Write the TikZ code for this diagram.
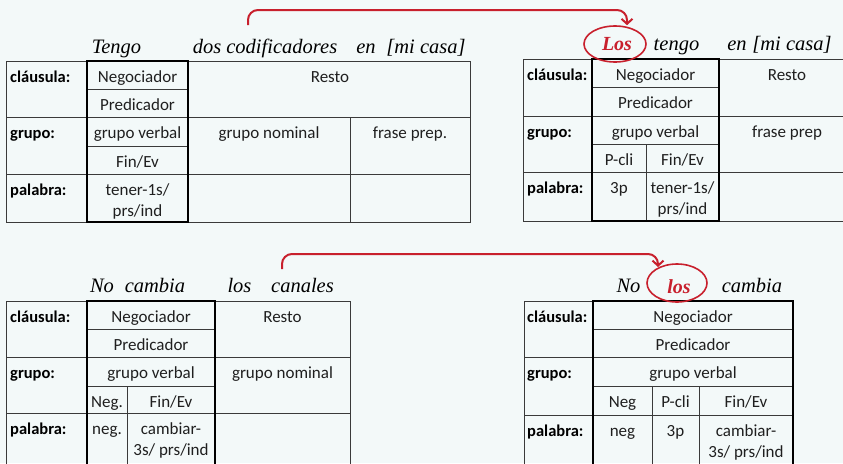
\documentclass[tikz,border=0pt]{standalone}
\usepackage{fontspec}
\newfontfamily\carlito{Carlito}
\newfontfamily\hdrfont{Liberation Serif}
\usetikzlibrary{arrows.meta,shapes.geometric}
\definecolor{bgcol}{HTML}{F3F9F9}
\definecolor{myred}{RGB}{200,32,45}
\definecolor{linecol}{HTML}{3A3A3A}
\begin{document}
\begin{tikzpicture}[x=1pt,y=-1pt,
  thinl/.style={draw=linecol, line width=1pt},
  thickb/.style={draw=black, line width=2.4pt},
  cell/.style={font=\carlito\fontsize{17}{20}\selectfont, inner sep=0, anchor=base, text=black!88},
  rowlbl/.style={font=\carlito\bfseries\fontsize{16.5}{20}\selectfont, inner sep=0, anchor=base west, text=black},
  hdr/.style={font=\hdrfont\itshape\fontsize{20.5}{23}\selectfont, inner sep=0, anchor=base, text=black},
  redword/.style={font=\hdrfont\itshape\bfseries\fontsize{20}{23}\selectfont, inner sep=0, anchor=base, text=myred},
  ring/.style={ellipse, draw=myred, line width=1.6pt, inner sep=0},
  arr/.style={draw=myred, line width=2pt, rounded corners=10pt, -{Straight Barb[length=5pt,width=11pt]}}]
\useasboundingbox (0,0) rectangle (843,463);
\clip (0,0) rectangle (843,463);
\fill[bgcol] (0,0) rectangle (843,463);

% ---------- Table 1 (top left) ----------
\draw[thinl] (6,61) rectangle (470,222);
\draw[thinl] (6,117) -- (470,117) (6,174) -- (470,174);
\draw[thinl] (87,89) -- (188,89) (87,146) -- (188,146);
\draw[thinl] (350,117) -- (350,222);
\draw[thickb] (87,61) rectangle (188,222);
\node[rowlbl] (a-l1) at (10,82) {cláusula:};
\node[rowlbl] (a-l2) at (10,138) {grupo:};
\node[rowlbl] (a-l3) at (10,195) {palabra:};
\node[cell] (a-neg) at (137.5,82) {Negociador};
\node[cell] (a-pred) at (137.5,110) {Predicador};
\node[cell] (a-gv) at (137.5,138) {grupo verbal};
\node[cell] (a-fin) at (137.5,167) {Fin/Ev};
\node[cell] (a-w1) at (137.5,195) {tener-1s/};
\node[cell] (a-w2) at (137.5,216) {prs/ind};
\node[cell] (a-resto) at (330,82) {Resto};
\node[cell] (a-gn) at (269,138) {grupo nominal};
\node[cell] (a-fp) at (410,138) {frase prep.};
\node[hdr] (h1a) at (116.5,53) {Tengo};
\node[hdr] (h1b) at (265,53) {dos codificadores};
\node[hdr] (h1c) at (366,53) {en};
\node[hdr] (h1d) at (426,53) {[mi casa]};

% ---------- Table 2 (top right) ----------
\draw[thinl] (523,59) rectangle (855,221);
\draw[thinl] (523,116) -- (855,116) (523,172) -- (855,172);
\draw[thinl] (592,87) -- (719,87) (592,144) -- (719,144);
\draw[thinl] (646,144) -- (646,221);
\draw[thickb] (592,59) rectangle (719,221);
\node[rowlbl] (b-l1) at (527,80) {cláusula:};
\node[rowlbl] (b-l2) at (527,137) {grupo:};
\node[rowlbl] (b-l3) at (527,193) {palabra:};
\node[cell] (b-neg) at (655.5,80) {Negociador};
\node[cell] (b-pred) at (655.5,108) {Predicador};
\node[cell] (b-gv) at (655.5,137) {grupo verbal};
\node[cell] (b-pcli) at (619,165) {P-cli};
\node[cell] (b-fin) at (682.5,165) {Fin/Ev};
\node[cell] (b-3p) at (619,193) {3p};
\node[cell] (b-w1) at (682.5,193) {tener-1s/};
\node[cell] (b-w2) at (682.5,214) {prs/ind};
\node[cell] (b-resto) at (787,80) {Resto};
\node[cell] (b-fp) at (787,137) {frase prep};
\node[ring, minimum width=62pt, minimum height=36pt] (ring1) at (615,44) {};
\node[redword] (los1) at (617,50) {Los};
\node[hdr] (h2b) at (676.5,50) {tengo};
\node[hdr] (h2c) at (737,50) {en};
\node[hdr] (h2d) at (792,50) {[mi casa]};

% ---------- Table 3 (bottom left) ----------
\draw[thinl] (6,301) rectangle (350,475);
\draw[thinl] (6,357) -- (350,357) (6,413) -- (350,413);
\draw[thinl] (87,329) -- (215,329) (87,386) -- (215,386);
\draw[thinl] (127,386) -- (127,475);
\draw[thickb] (87,301) rectangle (215,475);
\node[rowlbl] (c-l1) at (10,322) {cláusula:};
\node[rowlbl] (c-l2) at (10,378) {grupo:};
\node[rowlbl] (c-l3) at (10,434) {palabra:};
\node[cell] (c-neg) at (151,322) {Negociador};
\node[cell] (c-pred) at (151,350) {Predicador};
\node[cell] (c-gv) at (151,378) {grupo verbal};
\node[cell] (c-ng) at (107,407) {Neg.};
\node[cell] (c-fin) at (171,407) {Fin/Ev};
\node[cell] (c-n) at (107,434) {neg.};
\node[cell] (c-w1) at (171,434) {cambiar-};
\node[cell] (c-w2) at (171,455) {3s/ prs/ind};
\node[cell] (c-resto) at (282.5,322) {Resto};
\node[cell] (c-gn) at (282.5,378) {grupo nominal};
\node[hdr] (h3a) at (102,292) {No};
\node[hdr] (h3b) at (155,292) {cambia};
\node[hdr] (h3c) at (239.5,292) {los};
\node[hdr] (h3d) at (302.5,292) {canales};

% ---------- Table 4 (bottom right) ----------
\draw[thinl] (524,301) rectangle (793,475);
\draw[thinl] (524,357) -- (793,357) (524,415) -- (793,415);
\draw[thinl] (593,329) -- (793,329) (593,386) -- (793,386);
\draw[thinl] (652,386) -- (652,475) (699,386) -- (699,475);
\draw[thickb] (593,301) rectangle (793,475);
\node[rowlbl] (d-l1) at (527,322) {cláusula:};
\node[rowlbl] (d-l2) at (527,378) {grupo:};
\node[rowlbl] (d-l3) at (527,436) {palabra:};
\node[cell] (d-neg) at (693,322) {Negociador};
\node[cell] (d-pred) at (693,350) {Predicador};
\node[cell] (d-gv) at (693,378) {grupo verbal};
\node[cell] (d-ng) at (622.5,407) {Neg};
\node[cell] (d-pcli) at (675.5,407) {P-cli};
\node[cell] (d-fin) at (746,407) {Fin/Ev};
\node[cell] (d-n) at (622.5,436) {neg};
\node[cell] (d-3p) at (675.5,436) {3p};
\node[cell] (d-w1) at (746,436) {cambiar-};
\node[cell] (d-w2) at (746,457) {3s/ prs/ind};
\node[ring, minimum width=60pt, minimum height=38pt] (ring2) at (677,283) {};
\node[redword] (los2) at (679,293) {los};
\node[hdr] (h4a) at (628.5,292) {No};
\node[hdr] (h4c) at (752,292) {cambia};

% ---------- arrows ----------
\coordinate (s1) at (248,25);
\coordinate (c1) at (627,10);
\draw[arr] (s1) |- (c1) -- (c1 |- ring1.north);
\coordinate (s2) at (282,269);
\coordinate (c2) at (658,254);
\coordinate (t2) at (658,267);
\draw[arr] (s2) |- (c2) -- (t2);
\end{tikzpicture}
\end{document}
